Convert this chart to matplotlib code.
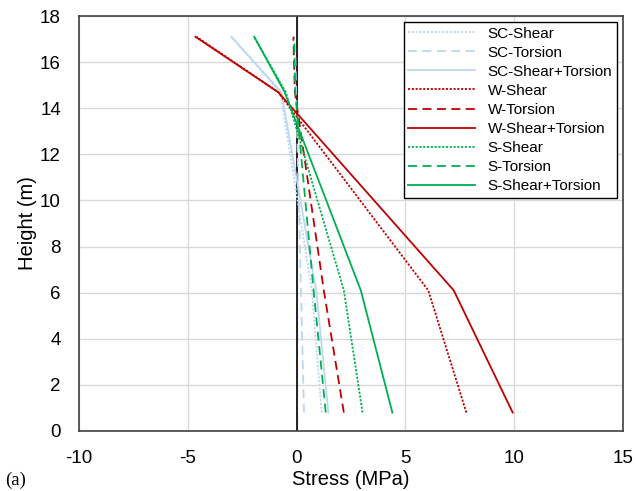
import numpy as np
import matplotlib.pyplot as plt

plt.rcParams['font.family'] = ['Liberation Sans', 'DejaVu Sans']
plt.rcParams['axes.unicode_minus'] = False

# storey heights (m) where stresses are read
height = [0.8, 6.1, 14.7, 17.1]

sc_shear = [1.15, 0.70, -0.75, -3.0]
sc_torsion = [0.34, 0.20, -0.02, -0.08]
sc_both = [1.46, 0.90, -0.70, -3.0]
w_shear = [7.8, 6.05, -0.85, -4.6]
w_torsion = [2.17, 1.25, -0.08, -0.15]
w_both = [9.93, 7.22, -0.85, -4.65]
s_shear = [3.03, 2.17, -0.50, -1.95]
s_torsion = [1.34, 0.78, -0.06, -0.12]
s_both = [4.4, 2.95, -0.55, -1.95]

names = ['SC-Shear', 'SC-Torsion', 'SC-Shear+Torsion',
         'W-Shear', 'W-Torsion', 'W-Shear+Torsion',
         'S-Shear', 'S-Torsion', 'S-Shear+Torsion']
series = [sc_shear, sc_torsion, sc_both, w_shear, w_torsion, w_both,
          s_shear, s_torsion, s_both]

blue = '#bdd7ee'
red = '#c00000'
green = '#00b050'
colors = [blue] * 3 + [red] * 3 + [green] * 3
dots = (0, (1.2, 0.9))
dash = (0, (5, 3))
styles = [dots, dash, '-'] * 3

fig = plt.figure(figsize=(6.36, 4.91), dpi=100)
ax = fig.add_axes([0.1242, 0.1222, 0.8554, 0.8452])

for vals, name, c, ls in zip(series, names, colors, styles):
    ax.plot(vals, height, color=c, linestyle=ls, linewidth=1.3, label=name)

ax.axvline(0, color='black', linewidth=1.2, zorder=1)
ax.set_xlim(-10, 15)
ax.set_ylim(0, 18)
ax.set_xticks(np.arange(-10, 16, 5))
ax.set_yticks(np.arange(0, 19, 2))
ax.grid(True, color='#d9d9d9', linewidth=1.0)
ax.set_axisbelow(True)
for s in ax.spines.values():
    s.set_color('#404040')
    s.set_linewidth(1.2)
ax.tick_params(axis='x', length=0, labelsize=13.5, pad=14)
ax.tick_params(axis='y', length=0, labelsize=13.5, pad=13)
ax.set_xlabel('Stress (MPa)', fontsize=14.5, labelpad=1.5)
ax.set_ylabel('Height (m)', fontsize=14.5, labelpad=2)

leg = ax.legend(loc='upper right', fontsize=11, frameon=True, fancybox=False,
                edgecolor='black', framealpha=1, handlelength=4.4,
                labelspacing=0.33, borderpad=0.3, borderaxespad=0.4)
leg.get_frame().set_linewidth(1.0)

fig.text(0.008, 0.013, '(a)', fontsize=13.5, family='Liberation Serif')

plt.savefig('out.png')
